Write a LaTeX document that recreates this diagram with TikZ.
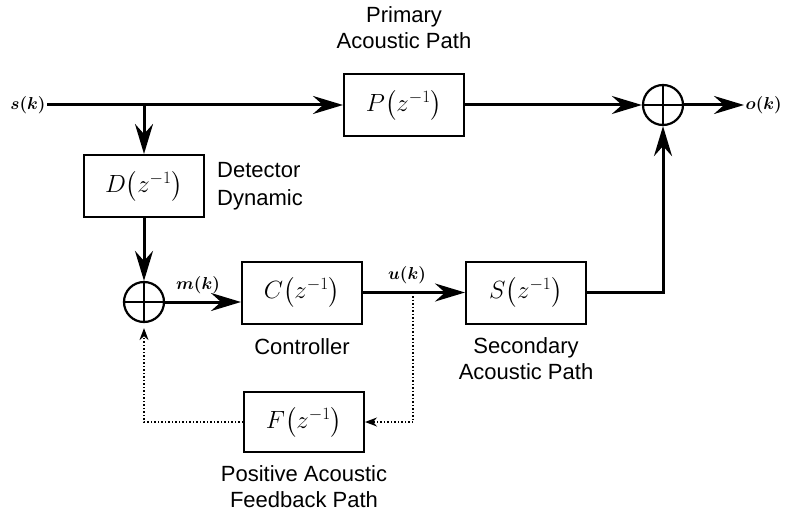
\documentclass[tikz,border=0pt]{standalone}
\usepackage{amsmath}
\usepackage{fontspec}
\setmainfont{Liberation Sans}
\usetikzlibrary{arrows.meta,positioning}
\tikzset{
  blk/.style={
    draw, line width=2pt, minimum width=120pt, minimum height=62pt,
    inner sep=0pt, font=\fontsize{26}{30}\selectfont
  },
  sumc/.style={
    draw, circle, line width=2.2pt, minimum size=40pt, inner sep=0pt,
    path picture={
      \draw[line width=2pt]
        (path picture bounding box.north) -- (path picture bounding box.south)
        (path picture bounding box.west) -- (path picture bounding box.east);
    }
  },
  wire/.style={line width=3pt},
  sig/.style={wire, -{Stealth[length=30pt, width=18pt, inset=10pt]}},
  fb/.style={line width=1.5pt, dash pattern=on 1.5pt off 2pt,
    -{Stealth[length=12pt, width=9pt]}},
  lbl/.style={font=\fontsize{22}{26}\selectfont, align=center, inner sep=0pt},
  var/.style={font=\fontsize{19}{22}\selectfont\boldmath, inner sep=1.5pt}
}

\begin{document}
\begin{tikzpicture}[x=1pt, y=-1pt]
  \useasboundingbox (0,0) rectangle (786,513);

  % --- forward path ------------------------------------------------------
  \node[var] (sk) at (28,105) {$s(k)$};
  \node[blk] (P) at (404,105) {$P\bigl(z^{-1}\bigr)$};
  \node[sumc] (sumo) at (663,105) {};
  \node[var, anchor=west] (ok) at (744,105) {$o(k)$};
  \coordinate (br) at (144,105);

  \draw[sig] (sk.east) -- (P.west);
  \draw[sig] (P.east) -- (sumo.west);
  \draw[sig] (sumo.east) -- (ok.west);

  % --- detector and controller ---------------------------------------------
  \node[blk] (D) at (144,186) {$D\bigl(z^{-1}\bigr)$};
  \node[sumc] (sumi) at (144,302) {};
  \node[blk] (C) at (302,292.5) {$C\bigl(z^{-1}\bigr)$};
  \node[blk] (S) at (526,292.5) {$S\bigl(z^{-1}\bigr)$};
  \node[var] (mk) at (198,285) {$m(k)$};
  \node[var] (uk) at (407,275) {$u(k)$};
  \coordinate (fbr) at (413,292.5);

  \draw[sig] (br) -- (D.north);
  \draw[sig] (D.south) -- (sumi.north);
  \draw[sig] (sumi.east) -- (sumi.east -| C.west);
  \draw[sig] (C.east) -- (S.west);
  \draw[sig] (S.east) -| (sumo.south);

  % --- acoustic feedback (dotted) ------------------------------------------
  \node[blk, minimum height=60pt] (F) at (304,422) {$F\bigl(z^{-1}\bigr)$};

  \draw[fb] (fbr) |- (F.east);
  \draw[fb, shorten >=5pt] (F.west) -| (sumi.south);

  % --- block names ---------------------------------------------------------
  \node[lbl, above=24pt of P] {Primary\\Acoustic Path};
  \node[lbl, right=12pt of D, align=left, font=\fontsize{22}{28}\selectfont] {Detector\\Dynamic};
  \node[lbl, below=14pt of C] {Controller};
  \node[lbl, below=13pt of S] {Secondary\\Acoustic Path};
  \node[lbl, below=12pt of F] {Positive Acoustic\\Feedback Path};
\end{tikzpicture}
\end{document}
